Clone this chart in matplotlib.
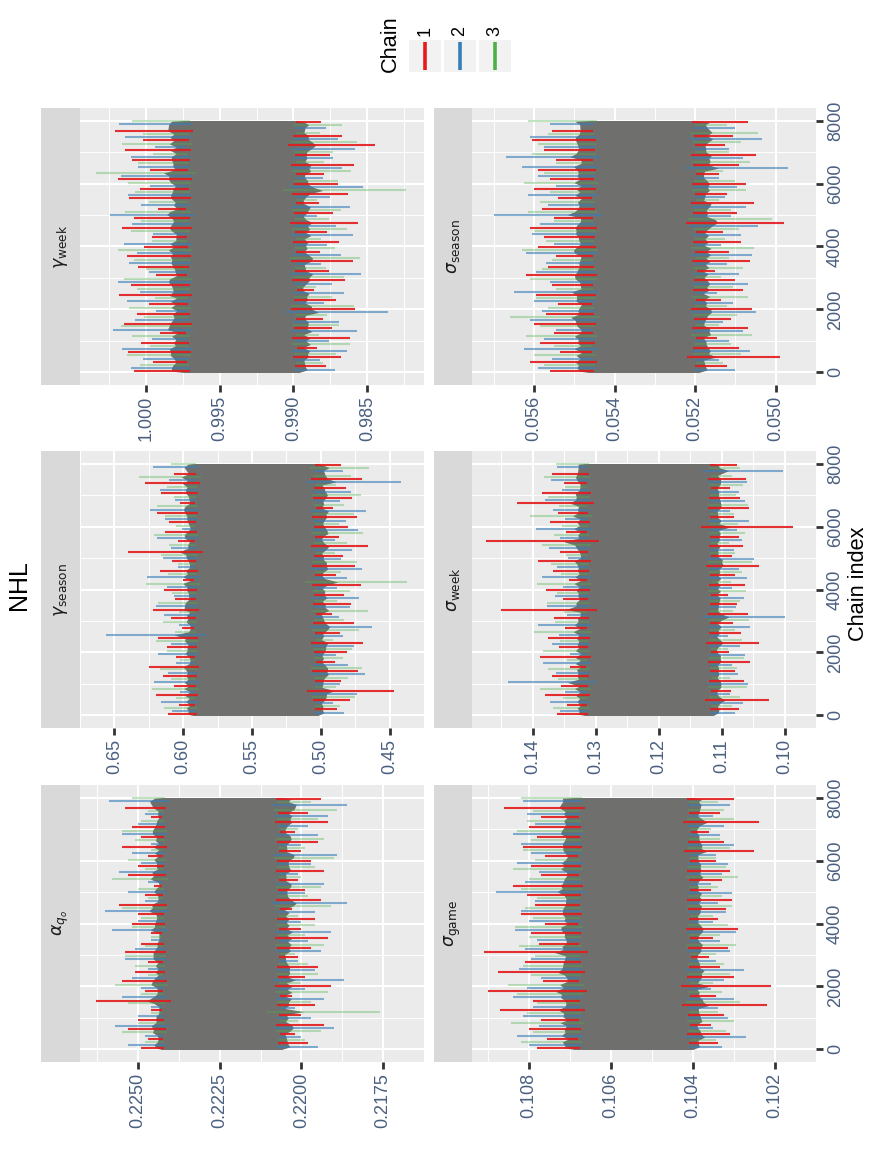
import numpy as np
import matplotlib
matplotlib.use('Agg')
import matplotlib.pyplot as plt
from matplotlib.patches import Rectangle

plt.rcParams['font.family'] = ['Liberation Sans', 'DejaVu Sans']

W, H = 872, 1162

# chain colours (Set1) and how strongly each chain shows
chain_labels = ['1', '2', '3']
chain_cols = ['#E41A1C', '#377EB8', '#4DAF4A']
chain_alpha = [0.9, 0.6, 0.35]

# iterations of the visible excursions of each chain (above / below the bulk)
it_up = [
    [40, 330, 640, 930, 1260, 1540, 1850, 2160, 2450, 2770, 3080, 3360, 3690,
     3990, 4290, 4600, 4910, 5200, 5530, 5830, 6140, 6440, 6750, 7060, 7370, 7680],
    [140, 440, 750, 1050, 1360, 1650, 1960, 2260, 2560, 2870, 3180, 3480, 3790,
     4090, 4400, 4700, 5010, 5310, 5630, 5930, 6240, 6540, 6850, 7160, 7470, 7880],
    [240, 540, 850, 1150, 1460, 1750, 2060, 2360, 2660, 2970, 3280, 3580, 3890,
     4190, 4500, 4800, 5110, 5410, 5730, 6030, 6340, 6640, 6950, 7260, 7570, 7980],
]
it_dn = [
    [190, 490, 790, 1100, 1400, 1710, 2010, 2310, 2610, 2920, 3230, 3530, 3840,
     4140, 4450, 4760, 5060, 5370, 5680, 5990, 6290, 6600, 6900, 7220, 7520, 7950],
    [80, 390, 690, 1000, 1300, 1610, 1910, 2210, 2510, 2820, 3130, 3430, 3740,
     4040, 4350, 4650, 4960, 5260, 5580, 5880, 6190, 6490, 6800, 7110, 7420, 7780],
    [290, 590, 890, 1200, 1500, 1810, 2110, 2410, 2710, 3020, 3330, 3630, 3940,
     4240, 4550, 4860, 5160, 5470, 5780, 6090, 6390, 6700, 7010, 7320, 7620, 7870],
]

# ---- alpha_q0
alpha_core = [0.2206, 0.2243]
alpha_up = [
    [0.2249, 0.2247, 0.2253, 0.2250, 0.2246, 0.2263, 0.2248, 0.2255, 0.2251, 0.2247, 0.2254, 0.2249, 0.2246,
     0.2252, 0.2250, 0.2256, 0.2248, 0.2245, 0.2253, 0.2250, 0.2247, 0.2255, 0.2249, 0.2252, 0.2246, 0.2254],
    [0.2253, 0.2248, 0.2257, 0.2250, 0.2246, 0.2255, 0.2249, 0.2252, 0.2247, 0.2254, 0.2251, 0.2246, 0.2258,
     0.2250, 0.2260, 0.2248, 0.2253, 0.2247, 0.2256, 0.2249, 0.2252, 0.2246, 0.2255, 0.2250, 0.2248, 0.2259],
    [0.2248, 0.2255, 0.2250, 0.2246, 0.2253, 0.2249, 0.2257, 0.2247, 0.2251, 0.2254, 0.2248, 0.2246, 0.2252,
     0.2249, 0.2255, 0.2247, 0.2250, 0.2258, 0.2248, 0.2253, 0.2246, 0.2251, 0.2255, 0.2249, 0.2247, 0.2252],
]
alpha_dn = [
    [0.2198, 0.2202, 0.2193, 0.2200, 0.2196, 0.2203, 0.2191, 0.2199, 0.2195, 0.2201, 0.2197, 0.2192, 0.2200,
     0.2196, 0.2203, 0.2194, 0.2199, 0.2201, 0.2193, 0.2197, 0.2200, 0.2195, 0.2202, 0.2192, 0.2198, 0.2194],
    [0.2195, 0.2200, 0.2190, 0.2197, 0.2202, 0.2193, 0.2199, 0.2187, 0.2196, 0.2201, 0.2194, 0.2198, 0.2191,
     0.2200, 0.2196, 0.2186, 0.2199, 0.2193, 0.2201, 0.2197, 0.2189, 0.2200, 0.2195, 0.2198, 0.2192, 0.2186],
    [0.2199, 0.2194, 0.2201, 0.2176, 0.2197, 0.2192, 0.2200, 0.2195, 0.2198, 0.2202, 0.2193, 0.2199, 0.2196,
     0.2201, 0.2191, 0.2198, 0.2194, 0.2200, 0.2196, 0.2190, 0.2199, 0.2193, 0.2201, 0.2195, 0.2189, 0.2197],
]

# ---- gamma_season
gseason_core = [0.502, 0.593]
gseason_up = [
    [0.611, 0.603, 0.620, 0.607, 0.615, 0.625, 0.605, 0.612, 0.618, 0.601, 0.609, 0.622, 0.606,
     0.614, 0.600, 0.617, 0.608, 0.640, 0.604, 0.613, 0.610, 0.619, 0.602, 0.616, 0.628, 0.607],
    [0.608, 0.616, 0.602, 0.621, 0.611, 0.605, 0.618, 0.609, 0.656, 0.603, 0.614, 0.620, 0.607,
     0.612, 0.626, 0.604, 0.615, 0.609, 0.619, 0.601, 0.613, 0.624, 0.606, 0.617, 0.610, 0.622],
    [0.614, 0.605, 0.623, 0.609, 0.617, 0.602, 0.612, 0.620, 0.606, 0.615, 0.603, 0.618, 0.608,
     0.627, 0.611, 0.604, 0.616, 0.610, 0.621, 0.605, 0.613, 0.619, 0.607, 0.612, 0.632, 0.609],
]
gseason_dn = [
    [0.488, 0.479, 0.447, 0.485, 0.473, 0.490, 0.481, 0.469, 0.486, 0.476, 0.492, 0.478, 0.483,
     0.471, 0.489, 0.475, 0.484, 0.466, 0.487, 0.480, 0.474, 0.491, 0.477, 0.482, 0.470, 0.485],
    [0.483, 0.491, 0.474, 0.486, 0.468, 0.480, 0.489, 0.476, 0.484, 0.463, 0.487, 0.479, 0.472,
     0.488, 0.481, 0.470, 0.485, 0.477, 0.490, 0.473, 0.482, 0.467, 0.486, 0.478, 0.442, 0.484],
    [0.486, 0.475, 0.489, 0.480, 0.470, 0.484, 0.477, 0.491, 0.472, 0.483, 0.466, 0.488, 0.479,
     0.437, 0.485, 0.474, 0.490, 0.481, 0.469, 0.487, 0.476, 0.483, 0.471, 0.489, 0.478, 0.465],
]

# ---- gamma_week
gweek_core = [0.9896, 0.9975]
gweek_up = [
    [1.0008, 0.9995, 1.0012, 1.0003, 0.9990, 1.0015, 1.0006, 0.9998, 1.0018, 1.0010, 0.9993, 1.0005, 1.0013,
     1.0001, 0.9996, 1.0016, 1.0008, 0.9992, 1.0011, 1.0004, 1.0019, 0.9997, 1.0009, 1.0014, 1.0002, 1.0021],
    [1.0010, 1.0002, 1.0016, 0.9996, 1.0022, 1.0007, 0.9993, 1.0013, 1.0004, 1.0019, 0.9998, 1.0011, 1.0006,
     1.0015, 0.9995, 1.0009, 1.0024, 1.0003, 1.0012, 0.9997, 1.0017, 1.0005, 1.0010, 0.9994, 1.0014, 1.0018],
    [1.0004, 1.0013, 0.9997, 1.0009, 1.0017, 1.0001, 1.0011, 0.9994, 1.0006, 1.0015, 1.0000, 1.0008, 1.0019,
     0.9996, 1.0010, 1.0003, 1.0014, 0.9998, 1.0007, 1.0012, 1.0034, 1.0005, 0.9995, 1.0016, 1.0002, 1.0009],
]
gweek_dn = [
    [0.9878, 0.9868, 0.9884, 0.9862, 0.9874, 0.9880, 0.9858, 0.9871, 0.9886, 0.9865, 0.9876, 0.9860, 0.9882,
     0.9869, 0.9877, 0.9856, 0.9873, 0.9883, 0.9863, 0.9870, 0.9879, 0.9859, 0.9875, 0.9845, 0.9867, 0.9881],
    [0.9872, 0.9882, 0.9864, 0.9876, 0.9857, 0.9869, 0.9836, 0.9879, 0.9866, 0.9874, 0.9854, 0.9881, 0.9868,
     0.9877, 0.9860, 0.9871, 0.9884, 0.9862, 0.9875, 0.9853, 0.9880, 0.9867, 0.9873, 0.9858, 0.9870, 0.9878],
    [0.9880, 0.9871, 0.9862, 0.9883, 0.9869, 0.9877, 0.9859, 0.9874, 0.9885, 0.9866, 0.9878, 0.9855, 0.9872,
     0.9881, 0.9864, 0.9876, 0.9868, 0.9884, 0.9824, 0.9870, 0.9861, 0.9879, 0.9873, 0.9857, 0.9882, 0.9867],
]

# ---- sigma_game
sgame_core = [0.1040, 0.1069]
sgame_up = [
    [0.10780, 0.10755, 0.10800, 0.10770, 0.10870, 0.10790, 0.10900, 0.10765, 0.10875, 0.10810, 0.10910, 0.10775, 0.10795,
     0.10760, 0.10820, 0.10785, 0.10805, 0.10840, 0.10770, 0.10795, 0.10760, 0.10815, 0.10780, 0.10800, 0.10770, 0.10860],
    [0.10800, 0.10830, 0.10775, 0.10815, 0.10790, 0.10840, 0.10805, 0.10770, 0.10825, 0.10795, 0.10810, 0.10780, 0.10835,
     0.10800, 0.10820, 0.10785, 0.10880, 0.10810, 0.10775, 0.10830, 0.10795, 0.10820, 0.10840, 0.10785, 0.10805, 0.10815],
    [0.10820, 0.10790, 0.10845, 0.10805, 0.10780, 0.10830, 0.10850, 0.10795, 0.10815, 0.10785, 0.10825, 0.10800, 0.10835,
     0.10790, 0.10810, 0.10780, 0.10820, 0.10800, 0.10840, 0.10785, 0.10815, 0.10795, 0.10830, 0.10805, 0.10790, 0.10820],
]
sgame_dn = [
    [0.10340, 0.10310, 0.10355, 0.10325, 0.10220, 0.10345, 0.10210, 0.10300, 0.10335, 0.10360, 0.10315, 0.10350, 0.10290,
     0.10340, 0.10320, 0.10305, 0.10355, 0.10330, 0.10310, 0.10345, 0.10250, 0.10325, 0.10360, 0.10240, 0.10335, 0.10300],
    [0.10330, 0.10270, 0.10350, 0.10315, 0.10340, 0.10300, 0.10355, 0.10325, 0.10275, 0.10345, 0.10310, 0.10335, 0.10295,
     0.10350, 0.10320, 0.10340, 0.10305, 0.10355, 0.10330, 0.10315, 0.10345, 0.10300, 0.10335, 0.10325, 0.10350, 0.10310],
    [0.10345, 0.10320, 0.10300, 0.10340, 0.10285, 0.10330, 0.10350, 0.10310, 0.10325, 0.10345, 0.10295, 0.10335, 0.10315,
     0.10350, 0.10305, 0.10330, 0.10340, 0.10290, 0.10320, 0.10345, 0.10310, 0.10335, 0.10355, 0.10300, 0.10325, 0.10340],
]

# ---- sigma_week
sweek_core = [0.1113, 0.1318]
sweek_up = [
    [0.1362, 0.1345, 0.1381, 0.1355, 0.1370, 0.1340, 0.1388, 0.1358, 0.1375, 0.1349, 0.1366, 0.1450, 0.1352,
     0.1379, 0.1343, 0.1368, 0.1392, 0.1356, 0.1474, 0.1347, 0.1373, 0.1360, 0.1425, 0.1385, 0.1351, 0.1369],
    [0.1356, 0.1372, 0.1348, 0.1440, 0.1363, 0.1384, 0.1341, 0.1370, 0.1358, 0.1391, 0.1346, 0.1377, 0.1365,
     0.1352, 0.1386, 0.1361, 0.1344, 0.1374, 0.1357, 0.1395, 0.1349, 0.1368, 0.1380, 0.1354, 0.1371, 0.1362],
    [0.1368, 0.1352, 0.1389, 0.1360, 0.1375, 0.1346, 0.1383, 0.1357, 0.1398, 0.1364, 0.1350, 0.1378, 0.1362,
     0.1393, 0.1355, 0.1371, 0.1347, 0.1386, 0.1366, 0.1353, 0.1404, 0.1359, 0.1376, 0.1349, 0.1382, 0.1363],
]
sweek_dn = [
    [0.1072, 0.1025, 0.1085, 0.1064, 0.1078, 0.1055, 0.1088, 0.1040, 0.1069, 0.1082, 0.1058, 0.1075, 0.1090,
     0.1062, 0.1079, 0.1040, 0.1084, 0.1066, 0.1073, 0.0987, 0.1081, 0.1057, 0.1070, 0.1087, 0.1061, 0.1076],
    [0.1079, 0.1066, 0.1087, 0.1058, 0.1074, 0.1083, 0.1062, 0.1070, 0.1089, 0.1055, 0.1000, 0.1077, 0.1065,
     0.1084, 0.1060, 0.1072, 0.1048, 0.1081, 0.1068, 0.1076, 0.1057, 0.1086, 0.1063, 0.1073, 0.1059, 0.1002],
    [0.1083, 0.1070, 0.1059, 0.1086, 0.1075, 0.1064, 0.1090, 0.1068, 0.1079, 0.1056, 0.1082, 0.1071, 0.1061,
     0.1085, 0.1067, 0.1052, 0.1078, 0.1088, 0.1063, 0.1074, 0.1081, 0.1058, 0.1077, 0.1066, 0.1084, 0.1070],
]

# ---- sigma_season
sseason_core = [0.0519, 0.05466]
sseason_up = [
    [0.05560, 0.05610, 0.05535, 0.05585, 0.05550, 0.05600, 0.05570, 0.05540, 0.05595, 0.05555, 0.05620, 0.05565, 0.05545,
     0.05590, 0.05575, 0.05610, 0.05550, 0.05580, 0.05540, 0.05600, 0.05560, 0.05590, 0.05545, 0.05575, 0.05605, 0.05555],
    [0.05590, 0.05555, 0.05625, 0.05575, 0.05545, 0.05610, 0.05580, 0.05600, 0.05650, 0.05560, 0.05595, 0.05570, 0.05620,
     0.05550, 0.05605, 0.05585, 0.05700, 0.05565, 0.05615, 0.05545, 0.05590, 0.05630, 0.05670, 0.05575, 0.05610, 0.05560],
    [0.05575, 0.05600, 0.05550, 0.05620, 0.05585, 0.05660, 0.05565, 0.05595, 0.05545, 0.05610, 0.05580, 0.05555, 0.05630,
     0.05570, 0.05600, 0.05550, 0.05615, 0.05585, 0.05560, 0.05625, 0.05575, 0.05545, 0.05605, 0.05590, 0.05565, 0.05615],
]
sseason_dn = [
    [0.05120, 0.04990, 0.05090, 0.05145, 0.05070, 0.05110, 0.05060, 0.05135, 0.05080, 0.05100, 0.05150, 0.05065, 0.05115,
     0.05085, 0.05130, 0.04980, 0.05095, 0.05055, 0.05120, 0.05075, 0.05140, 0.05090, 0.05050, 0.05125, 0.05105, 0.05070],
    [0.05100, 0.05140, 0.05065, 0.05115, 0.05080, 0.05130, 0.05050, 0.05105, 0.05145, 0.05070, 0.05090, 0.05120, 0.05060,
     0.05135, 0.05085, 0.05045, 0.05110, 0.05075, 0.05125, 0.05095, 0.05140, 0.04970, 0.05080, 0.05115, 0.05035, 0.05100],
    [0.05130, 0.05085, 0.05110, 0.05060, 0.05140, 0.05095, 0.05120, 0.05070, 0.05105, 0.05135, 0.05080, 0.05115, 0.05055,
     0.05125, 0.05090, 0.05010, 0.05110, 0.05140, 0.05075, 0.05100, 0.05130, 0.05065, 0.05115, 0.05085, 0.05045, 0.05120],
]

# axis ranges (value axis drawn high -> low, left -> right) and ticks
alpha_lim = (0.22678, 0.21709)
gseason_lim = (0.6663, 0.4257)
gweek_lim = (1.00445, 0.98116)
sgame_lim = (0.10939, 0.10179)
sweek_lim = (0.14964, 0.09639)
sseason_lim = (0.05754, 0.04914)

alpha_ticks = [0.2175, 0.2200, 0.2225, 0.2250]
gseason_ticks = [0.45, 0.50, 0.55, 0.60, 0.65]
gweek_ticks = [0.985, 0.990, 0.995, 1.000]
sgame_ticks = [0.102, 0.104, 0.106, 0.108]
sweek_ticks = [0.10, 0.11, 0.12, 0.13, 0.14]
sseason_ticks = [0.050, 0.052, 0.054, 0.056]

iter_ticks = [0, 2000, 4000, 6000, 8000]
n_iter = 8000

LABEL_COL = '#4a5f80'
CORE_COL = '#6f706d'


def px_axes(fig, x0, y0, x1, y1):
    return fig.add_axes([x0 / W, 1 - y1 / H, (x1 - x0) / W, (y1 - y0) / H])


def bulk_edge(iters, tips, edge):
    # the grey bulk bulges a little where the chains wander out
    its = np.concatenate(iters)
    tp = np.concatenate(tips)
    order = np.argsort(its)
    y = np.concatenate([[1], its[order], [n_iter]])
    x = np.concatenate([[edge], edge + 0.22 * (tp[order] - edge), [edge]])
    return y, x


def trace_panel(fig, box, strip_x0, title, core, up, dn, lim, ticks, fmt, show_iter):
    x0, y0, x1, y1 = box
    ax = px_axes(fig, x0, y0, x1, y1)
    ax.set_facecolor('#EBEBEB')
    for s in ax.spines.values():
        s.set_visible(False)
    ax.set_xlim(*lim)
    ax.set_ylim(-0.05 * n_iter, 1.05 * n_iter)

    step = ticks[1] - ticks[0]
    minor_x = [t + step / 2 for t in [ticks[0] - step] + ticks]
    ax.set_xticks(ticks)
    ax.set_xticks(minor_x, minor=True)
    ax.set_xticklabels([fmt.format(t) for t in ticks], rotation=90,
                       color=LABEL_COL, fontsize=13)
    ax.set_yticks(iter_ticks)
    ax.set_yticks([1000, 3000, 5000, 7000], minor=True)
    ax.yaxis.tick_right()
    if show_iter:
        ax.set_yticklabels([str(t) for t in iter_ticks], rotation=90,
                           va='center', color=LABEL_COL, fontsize=13)
        ax.tick_params(axis='y', which='major', length=5, width=2,
                       color='#333333', pad=3)
    else:
        ax.set_yticklabels([])
        ax.tick_params(axis='y', which='major', length=0)
    ax.tick_params(axis='x', which='major', length=5, width=2,
                   color='#333333', pad=3)
    ax.tick_params(which='minor', length=0)
    ax.grid(True, which='major', color='white', lw=1.5)
    ax.grid(True, which='minor', color='white', lw=0.7)
    ax.set_axisbelow(True)

    lo, hi = core
    yu, xu = bulk_edge(it_up, up, hi)
    yd, xd = bulk_edge(it_dn, dn, lo)
    for c in [2, 1, 0]:
        u = np.array(up[c])
        d = np.array(dn[c])
        ax.hlines(it_up[c], hi - 0.15 * (u - hi), u, colors=chain_cols[c],
                  alpha=chain_alpha[c], lw=1.5, zorder=3)
        ax.hlines(it_dn[c], lo - 0.15 * (d - lo), d, colors=chain_cols[c],
                  alpha=chain_alpha[c], lw=1.5, zorder=3)
    ax.fill_betweenx(yu, lo, xu, color=CORE_COL, lw=0, zorder=2)
    ax.fill_betweenx(yd, xd, hi, color=CORE_COL, lw=0, zorder=2)

    sax = px_axes(fig, strip_x0, y0, x0, y1)
    sax.set_facecolor('#D9D9D9')
    sax.set_xticks([])
    sax.set_yticks([])
    for s in sax.spines.values():
        s.set_visible(False)
    sax.text(0.5, 0.5, title, rotation=90, ha='center', va='center',
             fontsize=12.5, color='#1A1A1A', transform=sax.transAxes)
    return ax


fig = plt.figure(figsize=(W / 100, H / 100), dpi=100)

trace_panel(fig, (80, 108, 424, 385), 41, r'$\gamma_{\mathrm{week}}$',
            gweek_core, gweek_up, gweek_dn, gweek_lim, gweek_ticks, '{:.3f}', False)
trace_panel(fig, (80, 451, 424, 728), 41, r'$\gamma_{\mathrm{season}}$',
            gseason_core, gseason_up, gseason_dn, gseason_lim, gseason_ticks, '{:.2f}', False)
trace_panel(fig, (80, 785, 424, 1062), 41, r'$\alpha_{q_o}$',
            alpha_core, alpha_up, alpha_dn, alpha_lim, alpha_ticks, '{:.4f}', False)
trace_panel(fig, (472, 108, 816, 385), 434, r'$\sigma_{\mathrm{season}}$',
            sseason_core, sseason_up, sseason_dn, sseason_lim, sseason_ticks, '{:.3f}', True)
trace_panel(fig, (472, 451, 816, 728), 434, r'$\sigma_{\mathrm{week}}$',
            sweek_core, sweek_up, sweek_dn, sweek_lim, sweek_ticks, '{:.2f}', True)
trace_panel(fig, (472, 785, 816, 1062), 434, r'$\sigma_{\mathrm{game}}$',
            sgame_core, sgame_up, sgame_dn, sgame_lim, sgame_ticks, '{:.3f}', True)

fig.text(19 / W, 1 - 585 / H, 'NHL', rotation=90, ha='center', va='center',
         fontsize=18, color='black')
fig.text(858 / W, 1 - 584 / H, 'Chain index', rotation=90, ha='center',
         va='center', fontsize=15.7, color='black')

# legend, drawn in pixel units of its own box
lax = px_axes(fig, 370, 0, 520, 80)
lax.set_xlim(370, 520)
lax.set_ylim(80, 0)
lax.axis('off')
lax.text(390, 72, 'Chain', rotation=90, ha='center', va='bottom',
         fontsize=15.7, color='black')
for k, lab in enumerate(chain_labels):
    kx = 409 + 35 * k
    lax.add_patch(Rectangle((kx, 40), 32, 32, facecolor='#F2F2F2', lw=0))
    lax.plot([kx + 16, kx + 16], [42, 70], color=chain_cols[k], lw=2.6,
             solid_capstyle='butt')
    lax.text(kx + 16, 36, lab, rotation=90, ha='center', va='bottom',
             fontsize=13, color='black')

fig.savefig('out.png', dpi=100)
